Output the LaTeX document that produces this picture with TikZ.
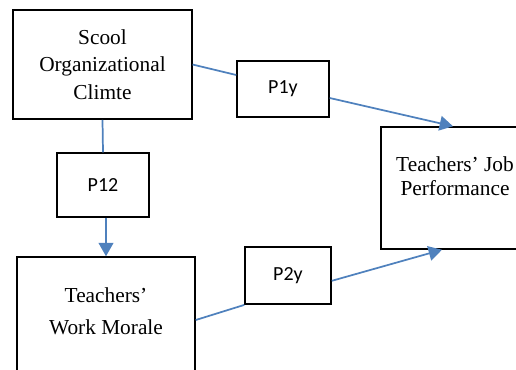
\documentclass[tikz,border=0pt]{standalone}
\usepackage{fontspec}
\setmainfont{Liberation Serif}
\newfontfamily\pfont{Carlito}
\usepackage{xcolor}
\usetikzlibrary{arrows.meta, positioning, calc}
\definecolor{LinkBlue}{HTML}{4F81BD}

\begin{document}
\begin{tikzpicture}[
    x=0.75pt, y=-0.75pt,
    box/.style={draw=black, line width=1.1pt, fill=white, inner sep=0pt, align=center,
                font=\fontsize{16}{20.5}\selectfont},
    pbox/.style={box, minimum width=69pt, font=\pfont\fontsize{15}{17}\selectfont},
    vlabel/.style={align=center, font=\fontsize{16}{18}\selectfont},
    link/.style={draw=LinkBlue, line width=1.3pt},
    path/.style={link, -{Triangle[length=10pt, width=11pt]}}
]
\useasboundingbox (0,0) rectangle (516,369);

% --- variables
\node[box, minimum width=134pt, minimum height=82pt] (sco) at (102.5, 64.5)
    {Scool\\Organizational\\Climte};
\node[box, minimum width=133.5pt, minimum height=88.5pt] (wm) at (106, 316) {};
\node[vlabel, font=\fontsize{16}{24}\selectfont] at ([yshift=3.75pt]wm.center)
    {Teachers'\\Work Morale};
\node[box, minimum width=111pt, minimum height=91.5pt] (tjp) at (455, 188) {};
\node[vlabel] at ([yshift=9pt]tjp.center) {Teachers' Job\\Performance};

% --- path coefficients
\node[pbox, minimum height=42pt] (p1y) at (283, 89) {P1y};
\node[pbox, minimum height=48pt] (p12) at (103, 185) {P12};
\node[pbox, minimum width=64.5pt, minimum height=43pt] (p2y) at (288, 275.5) {P2y};

% --- connectors
\draw[link] (sco.east) -- ([yshift=10.5pt]p1y.west);
\draw[path] ([yshift=-6.75pt]p1y.east) -- ([xshift=-1.5pt]tjp.north);
\draw[link] (sco.south) -- (p12.north);
\draw[path] (p12.south -| wm.north) -- (wm.north);
\draw[link] ([yshift=-3pt]wm.east) -- (p2y.south west);
\draw[path] ([yshift=-4pt]p2y.east) -- ([xshift=-9.75pt]tjp.south);
\end{tikzpicture}
\end{document}
